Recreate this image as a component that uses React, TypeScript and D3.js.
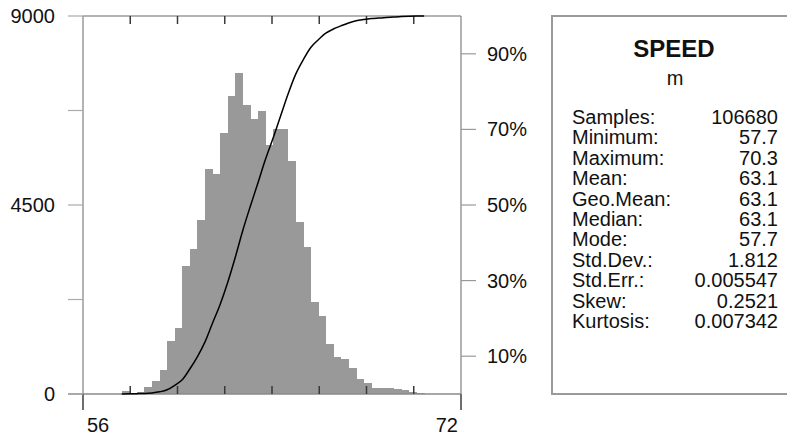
import React from "react";
import * as d3 from "d3";

// ---- data ----
const binStart = 57.64;
const binWidth = 0.32;
const binCounts = [
  71, 30, 45, 159, 310, 571, 1270, 1564, 3056, 3452,
  4143, 5350, 5230, 6222, 7095, 7650, 6874, 6540, 6738, 5929,
  6310, 6310, 5555, 4103, 3492, 2198, 1857, 1190, 889, 826,
  611, 349, 270, 151, 151, 135, 125, 85, 55, 32,
];
const countTicks = [0, 2250, 4500, 6750, 9000];
const countLabels = [0, 4500, 9000];
const pctTicks = [0.1, 0.3, 0.5, 0.7, 0.9];
const xTicks = [58, 60, 62, 64, 66, 68, 70];
const xLabels = [56, 72];
const title = "SPEED";
const unit = "m";
const statLabels = ["Samples:", "Minimum:", "Maximum:", "Mean:", "Geo.Mean:", "Median:", "Mode:", "Std.Dev.:", "Std.Err.:", "Skew:", "Kurtosis:"];
const statValues = ["106680", "57.7", "70.3", "63.1", "63.1", "63.1", "57.7", "1.812", "0.005547", "0.2521", "0.007342"];

const FONT = "'Liberation Sans', Arial, Helvetica, sans-serif";

export default function App() {
  const W = 787, H = 435;
  const x = d3.scaleLinear().domain([56, 72]).range([83, 461]);
  const y = d3.scaleLinear().domain([0, 9000]).range([394, 16]);
  const p = d3.scaleLinear().domain([0, 1]).range([394, 16]);

  const total = d3.sum(binCounts);
  const cum = d3.cumsum(binCounts);
  const cdfPts: [number, number][] = [[binStart, 0]];
  binCounts.forEach((_, i) => cdfPts.push([binStart + (i + 1) * binWidth, cum[i] / total]));
  const line = d3.line<[number, number]>()
    .x(d => x(d[0]))
    .y(d => p(d[1]))
    .curve(d3.curveMonotoneX);

  const axisColor = "#8a8a8a";
  const tickDark = "#3a3a3a";

  return (
    <div style={{ position: "absolute", left: 0, top: 0 }}>
      <svg width={W} height={H} style={{ display: "block", background: "#fff" }} fontFamily={FONT}>
        {/* histogram bars */}
        <g fill="#999999" shapeRendering="crispEdges">
          {binCounts.map((c, i) => {
            const x0 = x(binStart + i * binWidth);
            const x1 = x(binStart + (i + 1) * binWidth);
            return <rect key={i} x={x0} y={y(c)} width={x1 - x0 + 0.4} height={y(0) - y(c)} />;
          })}
        </g>

        {/* frame */}
        <line x1={x(56)} x2={x(72)} y1={y(9000)} y2={y(9000)} stroke="#6a6a6a" strokeWidth={1.2} />
        <line x1={x(56)} x2={x(56)} y1={y(9000)} y2={410} stroke={axisColor} strokeWidth={1.3} />
        <line x1={x(72)} x2={x(72)} y1={y(9000)} y2={410} stroke={axisColor} strokeWidth={1.3} />
        <line x1={68} x2={x(72)} y1={y(0)} y2={y(0)} stroke={axisColor} strokeWidth={1.3} />
        {/* dark tick extensions below baseline at 56 and 72 */}
        {xLabels.map(v => (
          <line key={"e" + v} x1={x(v)} x2={x(v)} y1={y(0)} y2={410} stroke="#666" strokeWidth={1.8} />
        ))}

        {/* left count ticks */}
        {countTicks.map(t => (
          <line key={"ct" + t} x1={68} x2={x(56)} y1={y(t)} y2={y(t)} stroke="#aaaaaa" strokeWidth={1.2} />
        ))}
        {countLabels.map(t => (
          <text key={"cl" + t} x={55} y={y(t)} dy="0.35em" textAnchor="end" fontSize={20} fill="#111">{t}</text>
        ))}

        {/* right percent ticks */}
        {pctTicks.map(t => (
          <g key={"pt" + t}>
            <line x1={x(72)} x2={476} y1={p(t)} y2={p(t)} stroke="#9a9a9a" strokeWidth={1.2} />
            <text x={487} y={p(t)} dy="0.35em" fontSize={20} fill="#111">{Math.round(t * 100)}%</text>
          </g>
        ))}

        {/* x ticks top and bottom */}
        {xTicks.map(v => (
          <g key={"xt" + v}>
            <line x1={x(v)} x2={x(v)} y1={y(9000)} y2={y(9000) + 8} stroke={tickDark} strokeWidth={1.5} />
            <line x1={x(v)} x2={x(v)} y1={y(0) - 8} y2={y(0)} stroke={tickDark} strokeWidth={1.5} />
          </g>
        ))}
        <text x={x(56) + 4} y={432} fontSize={20} fill="#111">{xLabels[0]}</text>
        <text x={x(72) - 3} y={432} textAnchor="end" fontSize={20} fill="#111">{xLabels[1]}</text>

        {/* cumulative curve */}
        <path d={line(cdfPts) || ""} fill="none" stroke="#000" strokeWidth={1.5} />

        {/* stats panel */}
        <rect x={552} y={16} width={260} height={378} fill="none" stroke="#9a9a9a" strokeWidth={2} />
        <text x={674} y={57} textAnchor="middle" fontSize={24} fontWeight="bold" fill="#111">{title}</text>
        <text x={675} y={85} textAnchor="middle" fontSize={20} fill="#111">{unit}</text>
        {statLabels.map((l, i) => (
          <g key={l}>
            <text x={572} y={124 + i * 20.4} fontSize={20} fill="#111">{l}</text>
            <text x={778} y={124 + i * 20.4} textAnchor="end" fontSize={20} fill="#111">{statValues[i]}</text>
          </g>
        ))}
      </svg>
    </div>
  );
}
